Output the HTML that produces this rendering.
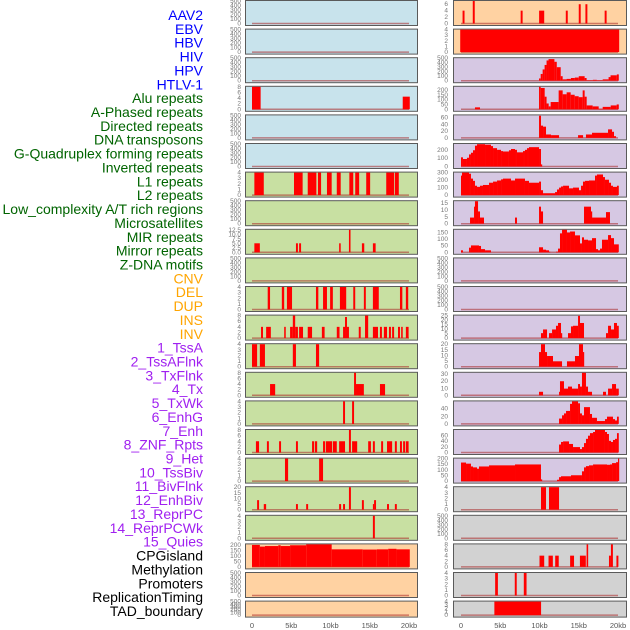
<!DOCTYPE html>
<html><head><meta charset="utf-8"><style>
html,body{margin:0;padding:0;background:#fff;}
svg{display:block;font-family:"Liberation Sans",sans-serif;}
</style></head><body>
<svg id="chart" width="630" height="630" viewBox="0 0 630 630" xmlns="http://www.w3.org/2000/svg"></svg>
<script>
// ---- data (segments: [startKb, endKb, value]) ----
const trackLabels = ["AAV2","EBV","HBV","HIV","HPV","HTLV-1","Alu repeats","A-Phased repeats","Directed repeats","DNA transposons","G-Quadruplex forming repeats","Inverted repeats","L1 repeats","L2 repeats","Low_complexity A/T rich regions","Microsatellites","MIR repeats","Mirror repeats","Z-DNA motifs","CNV","DEL","DUP","INS","INV","1_TssA","2_TssAFlnk","3_TxFlnk","4_Tx","5_TxWk","6_EnhG","7_Enh","8_ZNF_Rpts","9_Het","10_TssBiv","11_BivFlnk","12_EnhBiv","13_ReprPC","14_ReprPCWk","15_Quies","CPGisland","Methylation","Promoters","ReplicationTiming","TAD_boundary"];
const labelGroups = [0,0,0,0,0,0,1,1,1,1,1,1,1,1,1,1,1,1,1,2,2,2,2,2,3,3,3,3,3,3,3,3,3,3,3,3,3,3,3,4,4,4,4,4];
const xTickLabels = ["0","5kb","10kb","15kb","20kb"];
const xTickValues = [0,5,10,15,20];

const segL3 = [[0,1.1,8],[19.2,20.1,4.5]];
const segL6 = [[0.3,1.5,4],[5.35,6.45,4],[7.1,8.2,4],[8.4,8.8,4],[9.55,10.15,4],[10.8,11.3,4],[12.4,12.9,4],[13.15,13.65,4],[14.55,15.05,4],[17.1,18.1,4],[18.2,18.7,4]];
const segL8 = [[0.3,1.0,5],[5.6,5.85,5],[6.0,6.25,5],[11.1,11.3,5],[12.35,12.55,12.5],[14.0,14.3,5],[15.4,15.75,5]];
const segL10 = [[2.0,2.3,4],[3.8,4.1,4],[4.45,5.1,4],[8.15,8.45,4],[9.05,9.55,4],[9.95,10.3,4],[11.2,12.0,4],[12.9,13.15,4],[14.25,14.5,4],[15.4,16.15,4],[18.85,19.15,4],[19.6,19.9,4]];
const segL11 = [[1.15,1.4,4],[1.8,2.4,4],[4.1,4.3,4],[4.85,5.2,4],[5.2,5.5,8],[5.5,5.85,4],[6.0,6.5,4],[7.1,7.65,4],[8.9,9.25,4],[10.8,11.15,4],[11.6,11.85,4],[11.85,12.1,7.5],[12.1,12.35,4],[13.6,13.85,4],[14.4,14.8,8],[15.4,16.05,4],[16.3,16.55,4],[16.8,17.2,4],[17.45,17.7,4],[17.85,18.1,4],[18.6,18.85,4],[19.0,19.2,4],[19.6,19.95,4]];
const segL12 = [[0,0.65,4],[1.0,1.65,4],[5.2,5.6,4],[8.15,8.55,4]];
const segL13 = [[2.3,2.95,4],[13.0,13.25,8],[13.25,14.25,4],[16.3,16.95,4]];
const segL14 = [[11.6,11.85,4],[12.75,13.0,4]];
const segL15 = [[0.5,0.9,4],[1.9,2.15,4],[3.45,3.7,4],[5.6,5.85,4],[7.65,7.9,4],[8.0,8.3,4],[9.05,9.3,4],[9.4,10.2,4],[10.3,10.8,4],[11.1,11.85,4],[12.35,12.6,8],[12.75,13.4,4],[14.8,15.15,4],[15.4,15.65,4],[16.45,16.7,4],[17.2,17.85,4],[18.2,18.45,4],[18.85,19.1,4],[19.25,19.5,4],[19.6,19.95,4]];
const segL16 = [[4.2,4.6,4],[8.55,9.05,4]];
const segL17 = [[0.65,0.9,8.5],[1.5,1.8,5],[5.6,5.85,5],[6.9,7.15,5],[11.1,11.35,5],[11.6,11.85,5],[12.35,12.6,20],[14.0,14.25,8.5],[15.4,15.55,5],[15.55,15.8,8.5],[17.2,17.45,5],[18.2,18.45,5]];
const segL18 = [[15.4,15.65,4]];
const segL19 = [[0,1.0,200],[1.0,1.65,185],[1.65,3.35,190],[3.35,3.65,197],[3.65,4.85,190],[4.85,6.9,197],[6.9,10.15,205],[10.15,14.1,160],[14.1,15.9,158],[15.9,17.35,160],[17.35,18.4,165],[18.4,20.1,160]];

const segR0 = [[0.2,0.45,4],[1.5,1.75,7],[7.6,7.85,4],[9.95,10.6,4],[13.35,13.6,4],[15.0,15.25,6],[15.85,16.1,6],[18.3,18.55,4]];
const segR1 = [[-0.1,20.15,4]];
const segR2 = [[9.94,10.15,50],[10.15,10.4,150],[10.4,10.65,250],[10.65,10.9,350],[10.9,11.15,450],[11.15,11.9,480],[11.9,12.2,420],[12.2,12.7,300],[12.7,12.95,100],[12.95,13.45,30],[13.45,14.0,40],[14.0,14.5,60],[14.5,15.0,70],[15.0,15.75,100],[15.75,16.0,60],[16.0,16.8,10],[16.8,17.3,20],[17.3,18.05,10],[18.05,18.8,30],[18.8,19.05,80],[19.05,19.85,120],[19.85,20.1,140]];
const segR3 = [[1.78,2.42,20],[9.94,10.15,232],[10.15,10.66,220],[10.66,10.9,130],[10.9,11.17,60],[11.17,11.42,30],[11.42,12.44,75],[12.44,12.95,195],[12.95,13.46,155],[13.46,13.97,175],[13.97,14.48,150],[14.48,14.99,135],[14.99,15.5,125],[15.5,15.75,195],[15.75,16.01,130],[16.01,16.77,40],[16.77,17.54,30],[17.54,18.05,5],[18.05,19.07,25],[19.07,19.83,40],[19.83,20.1,50]];
const segR4 = [[9.94,10.19,65],[10.19,10.45,36],[10.45,10.83,33],[10.83,11.47,10],[11.47,12.49,8],[14.91,15.55,8],[15.92,16.69,10],[16.69,18.73,15],[18.73,19.24,25],[19.24,19.49,18],[19.49,19.75,5]];
const segR5 = [[0,0.25,110],[0.25,0.76,90],[0.76,1.02,105],[1.02,1.27,145],[1.27,1.53,165],[1.53,1.78,195],[1.78,2.04,250],[2.04,3.06,268],[3.06,3.82,262],[3.82,4.08,245],[4.08,4.59,220],[4.59,5.1,200],[5.1,5.35,185],[5.35,6.11,180],[6.11,6.37,195],[6.37,6.88,210],[6.88,7.13,200],[7.13,7.9,170],[7.9,8.15,185],[8.15,8.41,200],[8.41,8.66,220],[8.66,9.94,232],[9.94,10.19,210],[10.19,10.32,25]];
const segR6 = [[0,0.13,260],[0.13,1.02,300],[1.02,1.27,285],[1.27,1.53,220],[1.53,1.78,190],[1.78,2.04,125],[2.04,2.42,110],[2.42,2.8,125],[2.8,3.57,135],[3.57,4.08,165],[4.08,4.59,180],[4.59,5.1,195],[5.1,5.35,210],[5.35,6.37,220],[6.37,6.88,195],[6.88,8.15,220],[8.15,8.66,190],[8.66,9.94,165],[9.94,10.19,180],[10.19,10.45,65],[10.45,11.98,25],[11.98,12.23,40],[12.23,12.49,75],[12.49,12.74,100],[12.74,13.0,115],[13.0,13.76,125],[13.76,14.27,90],[14.27,15.03,100],[15.03,15.29,65],[15.29,15.54,125],[15.54,15.8,180],[15.8,16.31,190],[16.31,17.07,195],[17.07,17.32,260],[17.32,18.09,275],[18.09,18.34,240],[18.34,18.85,205],[18.85,19.11,165],[19.11,19.36,125],[19.36,19.87,110],[19.87,20.1,125]];
const segR7 = [[1.15,1.66,4.5],[1.66,1.78,12.5],[1.78,2.17,16.5],[2.17,2.42,9],[2.42,2.93,4.5],[6.88,7.13,4.5],[9.94,10.19,12.5],[10.19,10.45,9],[15.67,16.56,12.5],[16.56,16.69,9],[16.69,18.47,4.5],[18.47,18.98,8.5]];
const segR8 = [[0,0.25,15],[1.02,1.27,35],[1.27,2.29,52],[2.29,2.55,48],[2.55,3.06,24],[3.06,3.82,15],[9.94,10.45,38],[10.45,10.83,20],[10.83,11.21,15],[11.21,11.34,5],[12.1,12.36,5],[12.36,12.61,28],[12.61,12.87,143],[12.87,13.5,170],[13.5,13.89,150],[13.89,14.52,157],[14.52,15.16,128],[15.16,15.41,67],[15.41,15.67,113],[15.67,16.18,95],[16.18,16.69,90],[16.69,17.2,107],[17.2,17.45,24],[17.45,17.71,15],[17.71,17.96,28],[17.96,18.73,95],[18.73,19.11,130],[19.11,19.49,107],[19.49,20.1,60]];
const segR11 = [[10.19,10.45,5.5],[10.45,10.96,9.6],[11.21,11.6,5.5],[11.6,12.1,9.6],[12.1,12.36,13.7],[12.36,12.74,16.8],[12.74,12.87,5.5],[13.63,14.01,5.5],[14.01,14.27,13],[14.27,14.91,13.7],[14.91,15.16,24.7],[15.16,15.67,16.8],[18.47,18.73,5.5],[18.73,19.11,13.7],[19.11,19.49,9.6],[19.49,19.87,16.8],[19.87,20.1,13.7]];
const segR12 = [[9.94,10.19,13],[10.19,10.7,20],[10.7,10.96,13],[10.96,11.72,9.5],[11.72,12.87,4.8],[13.5,14.52,4.8],[14.52,15.03,9.5],[15.03,15.54,20],[15.54,15.67,13]];
const segR13 = [[9.94,10.45,5],[12.49,12.61,5],[12.61,13.12,20],[13.12,13.63,9.5],[13.63,14.14,12.4],[14.14,14.91,9.5],[14.91,15.16,16],[15.16,15.41,12.4],[15.41,15.92,32],[15.92,16.18,12.4],[16.18,16.69,5],[18.09,18.47,5],[18.73,19.24,9.5],[19.24,19.75,16],[19.75,20.1,9.5]];
const segR14 = [[12.49,12.87,14],[12.87,13.12,22.5],[13.12,13.38,27.5],[13.38,13.89,34],[13.89,14.14,52.5],[14.14,14.91,59],[14.91,15.16,54],[15.16,15.41,27.5],[15.41,15.67,22.5],[15.67,16.43,44],[16.43,16.69,26],[16.69,17.32,16],[17.32,18.34,7.5],[18.34,18.6,12.5],[18.6,19.36,19],[19.36,19.62,12.5],[19.62,19.87,9],[19.87,20.1,19]];
const segR15 = [[12.49,12.74,28],[12.74,13.0,37],[13.0,13.76,39],[13.76,14.27,30],[14.27,15.16,19],[15.16,15.41,12],[15.41,15.67,19],[15.67,15.92,33],[15.92,16.18,48],[16.18,16.43,59],[16.43,16.82,68],[16.82,17.07,72],[17.07,18.34,79],[18.34,18.6,72],[18.6,18.85,65],[18.85,19.11,41],[19.11,19.36,37],[19.36,19.62,44],[19.62,19.87,48],[19.87,20.1,68]];
const segR16 = [[0,0.64,165],[0.64,1.27,155],[1.27,1.53,130],[1.53,2.04,122],[2.04,2.29,110],[2.29,3.57,130],[3.57,6.88,140],[6.88,10.19,148],[10.19,10.32,15],[12.23,12.49,12],[12.49,12.74,35],[12.74,14.01,43],[14.01,15.41,52],[15.41,15.67,87],[15.67,15.92,122],[15.92,16.31,133],[16.31,16.82,140],[16.82,18.6,148],[18.6,18.98,145],[18.98,19.24,148],[19.24,19.75,160],[19.75,20.0,168],[20.0,20.1,200]];
const segR17 = [[10.19,10.83,4],[11.21,12.49,4]];
const segR19 = [[10.0,10.6,4],[11.15,11.7,4],[12.0,12.45,4],[13.9,14.4,4],[15.15,15.9,4],[16.0,16.2,8],[18.85,19.1,4],[19.1,19.35,8],[19.8,20.05,4]];
const segR20 = [[4.35,4.7,4],[6.85,7.1,4],[8.0,8.35,4]];
const segR21 = [[4.25,10.2,4]];

const tEmpty = ["0","100","200","300","400","500"];
const t4 = ["0","1","2","3","4"];
const t8 = ["0","2","4","6","8"];
// panel specs: [column, row, bg, tickLabels, tickMax, axisMax, segments]
const leftPanels = [
 ["blue",tEmpty,500,500,[]],["blue",tEmpty,500,500,[]],["blue",tEmpty,500,500,[]],
 ["blue",t8,8,8,segL3],["blue",tEmpty,500,500,[]],["blue",tEmpty,500,500,[]],
 ["green",t4,4,4,segL6],["green",tEmpty,500,500,[]],
 ["green",["0.0","2.5","5.0","7.5","10.0","12.5"],12.5,12.5,segL8],
 ["green",tEmpty,500,500,[]],["green",t4,4,4,segL10],["green",t8,8,8,segL11],
 ["green",t4,4,4,segL12],["green",t8,8,8,segL13],["green",t4,4,4,segL14],
 ["green",t8,8,8,segL15],["green",t4,4,4,segL16],["green",["0","5","10","15","20"],20,20,segL17],
 ["green",t4,4,4,segL18],["orange",["0","50","100","150","200"],200,205,segL19],
 ["orange",tEmpty,500,500,[]],["orange",tEmpty,500,500,[]]
];
const rightPanels = [
 ["orange",["0","2","4","6"],6,7,segR0],["orange",t4,4,4,segR1],
 ["purple",tEmpty,500,500,segR2],["purple",["0","50","100","150","200"],200,232,segR3],
 ["purple",["0","20","40","60"],60,66,segR4],["purple",["0","100","200"],200,270,segR5],
 ["purple",["0","100","200","300"],300,300,segR6],["purple",["0","5","10","15"],15,16.5,segR7],
 ["purple",["0","50","100","150"],150,170,segR8],["purple",tEmpty,500,500,[]],["purple",tEmpty,500,500,[]],
 ["purple",["0","5","10","15","20","25"],25,25,segR11],["purple",["0","5","10","15","20"],20,20,segR12],
 ["purple",["0","10","20","30"],30,32,segR13],["purple",["0","20","40"],40,59,segR14],
 ["purple",["0","20","40","60"],60,79,segR15],["purple",["0","50","100","150","200"],200,200,segR16],
 ["gray",t4,4,4,segR17],["gray",tEmpty,500,500,[]],["gray",t8,8,8,segR19],
 ["gray",t4,4,4,segR20],["gray",t4,4,4,segR21]
];
const bgColors = {blue:"#c8e3ec",green:"#c8e0a2",orange:"#ffd2a2",purple:"#d6c8e3",gray:"#d2d2d2"};
const groupColors = ["#0000ff","#006400","#ffa500","#a020f0","#000000"];

const svg = document.getElementById('chart');
const NS = "http://www.w3.org/2000/svg";
function mk(tag, attrs){const e=document.createElementNS(NS,tag);for(const k in attrs)e.setAttribute(k,attrs[k]);svg.appendChild(e);return e;}
const cols = [{x0:245,x1:417,d0:252,d1:409,tx:241},{x0:453,x1:626,d0:461,d1:618,tx:448}];
function xScale(c, kb){const col=cols[c];return col.d0+(col.d1-col.d0)*kb/20;}
function rowTop(r){return r*28.6;}
function rowH(r){return r===21?16:25;}

// labels
trackLabels.forEach((t,i)=>{
  const e=mk('text',{x:203,y:15+i*13.86+5,'text-anchor':'end','font-size':'14',fill:groupColors[labelGroups[i]]});
  e.textContent=t;
  
  
});

function drawPanel(c, r, p){
  const [bg,ticks,tickMax,axisMax,segs]=p;
  const col=cols[c], top=rowTop(r), h=rowH(r);
  const yBase=top+h-1.5, yTop=top+1;
  const yScale=v=>yBase-(yBase-yTop)*v/axisMax;
  const rect=mk('rect',{x:col.x0+0.5,y:top+0.5,width:col.x1-col.x0,height:h,fill:bgColors[bg],stroke:'#5a5a5a','stroke-width':1});
  
  
  // y ticks
  ticks.forEach((t,i)=>{
    const v=tickMax*i/(ticks.length-1);
    const tx=mk('text',{x:col.tx,y:yScale(v)+2,'text-anchor':'end','font-size':'6.5',fill:'#777'});
    tx.textContent=t;
    
    
  });
  // baseline
  const bl=mk('line',{x1:xScale(c,0),x2:xScale(c,20),y1:yBase,y2:yBase,stroke:'rgba(170,40,40,0.55)','stroke-width':1.5});
  
  
  segs.forEach(s=>{
    const x1=xScale(c,s[0]),x2=xScale(c,s[1]),y=yScale(s[2]);
    const b=mk('rect',{x:x1,y:y,width:Math.max(1.2,x2-x1),height:Math.max(0.5,yBase-y),fill:'#ff0000'});
    
    
  });
}
leftPanels.forEach((p,r)=>drawPanel(0,r,p));
rightPanels.forEach((p,r)=>drawPanel(1,r,p));

// x axis labels
[0,1].forEach(c=>{
  xTickValues.forEach((v,i)=>{
    const e=mk('text',{x:xScale(c,v),y:628,'text-anchor':'middle','font-size':'7.5',fill:'#555'});
    e.textContent=xTickLabels[i];
    
    
  });
});
</script>
</body></html>
